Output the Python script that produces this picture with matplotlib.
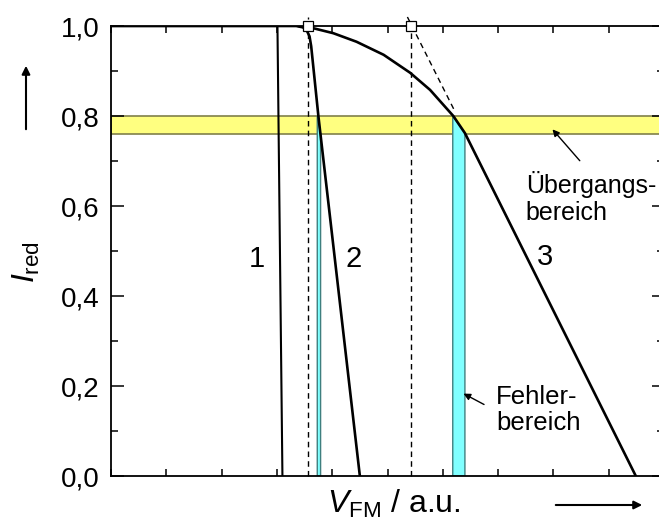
import numpy as np
import matplotlib.pyplot as plt

plt.rcParams['font.family'] = ['Liberation Sans', 'DejaVu Sans']
plt.rcParams['mathtext.fontset'] = 'custom'
plt.rcParams['mathtext.rm'] = 'Liberation Sans'
plt.rcParams['mathtext.it'] = 'Liberation Sans:italic'

# characteristic curves I_red(V_FM)
curve1_x = [0.0, 3.01, 3.10]
curve1_y = [1.0, 1.0, 0.0]

curve2_x = [0.0, 3.35, 3.47, 3.54, 3.59, 3.62, 3.75, 4.50]
curve2_y = [1.0, 1.0, 0.997, 0.99, 0.977, 0.955, 0.80, 0.0]

curve3_x = [3.40, 3.66, 4.02, 4.44, 4.93, 5.41, 5.77, 6.19, 6.40, 9.49]
curve3_y = [1.0, 0.995, 0.984, 0.965, 0.936, 0.896, 0.858, 0.80, 0.762, 0.0]

curve_labels = ['1', '2', '3']
label_x = [2.64, 4.38, 7.84]
label_y = [0.482, 0.482, 0.487]

# transition band and error ranges
band_lo, band_hi = 0.76, 0.80
err1_x = [3.73, 3.79]
err2_x = [6.18, 6.40]

# extrapolated onset points
onset_x = [3.57, 5.42]
onset_y = [1.0, 1.0]

yticks = [0.0, 0.2, 0.4, 0.6, 0.8, 1.0]
ytick_labels = ['0,0', '0,2', '0,4', '0,6', '0,8', '1,0']

fig = plt.figure(figsize=(6.59, 5.28), dpi=100)
ax = fig.add_axes([111/659, 52/528, 553/659, 450/528])
ax.set_xlim(0, 10)
ax.set_ylim(0, 1)

ax.axhspan(band_lo, band_hi, facecolor='#ffff80', edgecolor='#80804a', lw=1.2, zorder=1)

for xs, top in [(err1_x, (band_hi, band_lo)), (err2_x, (0.80, 0.762))]:
    ax.fill([xs[0], xs[0], xs[1], xs[1]], [0, top[0], top[1], 0],
            facecolor='#80ffff', edgecolor='#3f7f7f', lw=1.0, zorder=2)

dash = dict(color='black', lw=1.0, ls=(0, (4, 3)), clip_on=False, zorder=3)
ax.plot([onset_x[0], onset_x[0]], [0, 1.02], **dash)
ax.plot([onset_x[1], onset_x[1]], [0, 1.0], **dash)
ax.plot([5.36, 6.22], [1.02, 0.81], **dash)

ax.plot(curve1_x, curve1_y, color='black', lw=1.5, zorder=4)
ax.plot(curve2_x, curve2_y, color='black', lw=1.9, zorder=4)
ax.plot(curve3_x, curve3_y, color='black', lw=1.9, zorder=4)

ax.plot(onset_x, onset_y, 's', ms=7.5, mfc='white', mec='black', mew=0.9,
        clip_on=False, zorder=5)

for t, x, y in zip(curve_labels, label_x, label_y):
    ax.text(x, y, t, fontsize=21, ha='center', va='center')

ax.annotate('', xy=(7.95, 0.775), xytext=(8.51, 0.696),
            arrowprops=dict(arrowstyle='-|>', color='black', lw=1.0, mutation_scale=10))
ax.text(7.50, 0.569, 'Übergangs-\nbereich', fontsize=18, ha='left', va='baseline',
        linespacing=1.15)

ax.annotate('', xy=(6.33, 0.186), xytext=(6.79, 0.156),
            arrowprops=dict(arrowstyle='-|>', color='black', lw=1.0, mutation_scale=10))
ax.text(6.96, 0.103, 'Fehler-\nbereich', fontsize=18.5, ha='left', va='baseline',
        linespacing=1.1)

ax.set_xticks(np.arange(0, 11, 1))
ax.set_xticklabels([])
ax.set_yticks(yticks)
ax.set_yticklabels(ytick_labels, fontsize=20)
ax.set_yticks(np.arange(0.1, 1.0, 0.2), minor=True)
ax.tick_params(axis='x', direction='in', length=5, width=1.1, top=True)
ax.tick_params(axis='y', which='major', direction='in', length=9, width=1.1,
               right=True, pad=8)
ax.tick_params(axis='y', which='minor', direction='in', length=5, width=1.1, right=True)
for s in ax.spines.values():
    s.set_linewidth(1.3)

fig.text(26/659, 1 - 262/528, r'$I_{\mathrm{red}}$', fontsize=23, rotation=90,
         ha='center', va='center')
fig.text(394/659, 1 - 513/528, r'$V_{\mathrm{FM}}$ / a.u.', fontsize=23,
         ha='center', va='baseline')

fig.add_artist(plt.Annotation('', xy=(26/659, 1 - 63/528), xytext=(26/659, 1 - 132/528),
                              xycoords='figure fraction',
                              arrowprops=dict(arrowstyle='-|>', color='black', lw=1.5,
                                              mutation_scale=12)))
fig.add_artist(plt.Annotation('', xy=(645/659, 1 - 505/528), xytext=(553/659, 1 - 505/528),
                              xycoords='figure fraction',
                              arrowprops=dict(arrowstyle='-|>', color='black', lw=1.5,
                                              mutation_scale=12)))

fig.savefig('out.png', dpi=100)
